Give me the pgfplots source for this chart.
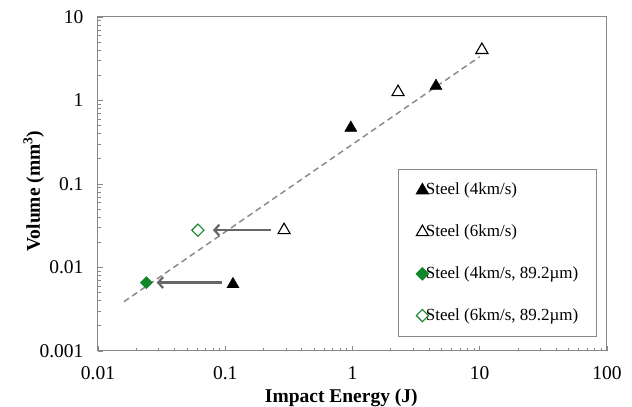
\documentclass[border=0pt]{standalone}
\usepackage{fontspec}
\setmainfont{Liberation Serif}
\usepackage{pgfplots}
\pgfplotsset{compat=1.18}
\usetikzlibrary{arrows.meta}
\definecolor{framegray}{HTML}{898989}
\definecolor{arrowgray}{HTML}{666666}
\definecolor{trendgray}{HTML}{8C8C8C}
\definecolor{mygreen}{HTML}{12872A}
\begin{document}
\begin{tikzpicture}
\begin{axis}[
  name=ax,
  scale only axis, width=509bp, height=334bp,
  xmode=log, ymode=log,
  xmin=0.01, xmax=100, ymin=0.001, ymax=10,
  xtick={0.01,0.1,1,10,100}, xticklabels={0.01,0.1,1,10,100},
  ytick={0.001,0.01,0.1,1,10}, yticklabels={0.001,0.01,0.1,1,10},
  minor xtick={0.02,0.03,0.04,0.05,0.06,0.07,0.08,0.09,0.2,0.3,0.4,0.5,0.6,0.7,0.8,0.9,2,3,4,5,6,7,8,9,20,30,40,50,60,70,80,90},
  minor ytick={0.002,0.003,0.004,0.005,0.006,0.007,0.008,0.009,0.02,0.03,0.04,0.05,0.06,0.07,0.08,0.09,0.2,0.3,0.4,0.5,0.6,0.7,0.8,0.9,2,3,4,5,6,7,8,9},
  tick pos=left, tick align=inside,
  major tick length=5bp, minor tick length=3.5bp,
  major tick style={framegray, line width=0.8bp},
  minor tick style={framegray, line width=0.8bp},
  axis line style={framegray, line width=1bp},
  /pgf/number format/assume math mode=true,
  tick label style={font=\fontsize{19.5bp}{23bp}\selectfont},
  xticklabel style={yshift=-12bp},
  yticklabel style={xshift=-11bp},
  xlabel={Impact Energy (J)},
  ylabel={Volume (mm\textsuperscript{3})},
  label style={font=\fontsize{19.5bp}{23bp}\selectfont\bfseries},
  xlabel style={at={(axis description cs:0.478,-0.153)}, anchor=base},
  ylabel style={at={(axis description cs:-0.114,0.479)}, anchor=base},
  legend image code/.code={\draw[mark repeat=2,mark phase=2] plot coordinates {(0bp,0bp)(5bp,0bp)(10bp,0bp)};},
  legend cell align=left,
  legend style={at={(axis description cs:0.589,0.545)}, anchor=north west,
    draw=framegray, line width=1bp, fill=white,
    font=\fontsize{17bp}{20bp}\selectfont,
    inner xsep=18bp, inner ysep=12.5bp, row sep=24.7bp, column sep=-2.5bp,
    nodes={inner sep=0pt, text height=13bp, text depth=4bp}},
]
\addplot[only marks, mark=triangle*, mark size=7bp, black] coordinates {(0.115,0.0063) (0.97,0.47) (4.53,1.49)};
\addlegendentry{Steel (4km/s)}
\addplot[only marks, mark=triangle, mark size=7bp, black, mark options={line width=1.1bp}] coordinates {(0.29,0.028) (2.28,1.26) (10.4,4.03)};
\addlegendentry{Steel (6km/s)}
\addplot[only marks, mark=square*, mark size=4.3bp, mygreen, mark options={rotate=45}] coordinates {(0.024,0.0066)};
\addlegendentry{Steel (4km/s, 89.2µm)}
\addplot[only marks, mark=square, mark size=4.3bp, mygreen, mark options={rotate=45, line width=1.1bp}] coordinates {(0.061,0.028)};
\addlegendentry{Steel (6km/s, 89.2µm)}
\addplot[forget plot, trendgray, line width=1.5bp, dash pattern=on 6bp off 4bp] coordinates {(0.016,0.0039) (10.0,3.35)};
\addplot[forget plot, arrowgray, line width=2.2bp, -{Straight Barb[length=5bp,width=11bp]}] coordinates {(0.227,0.028) (0.080,0.028)};
\addplot[forget plot, arrowgray, line width=2.2bp, -{Straight Barb[length=5bp,width=11bp]}] coordinates {(0.094,0.0066) (0.0289,0.0066)};
\end{axis}
\pgfresetboundingbox
\path ([xshift=-98bp,yshift=-56bp]ax.south west) rectangle ([xshift=25bp,yshift=17bp]ax.north east);
\end{tikzpicture}
\end{document}
